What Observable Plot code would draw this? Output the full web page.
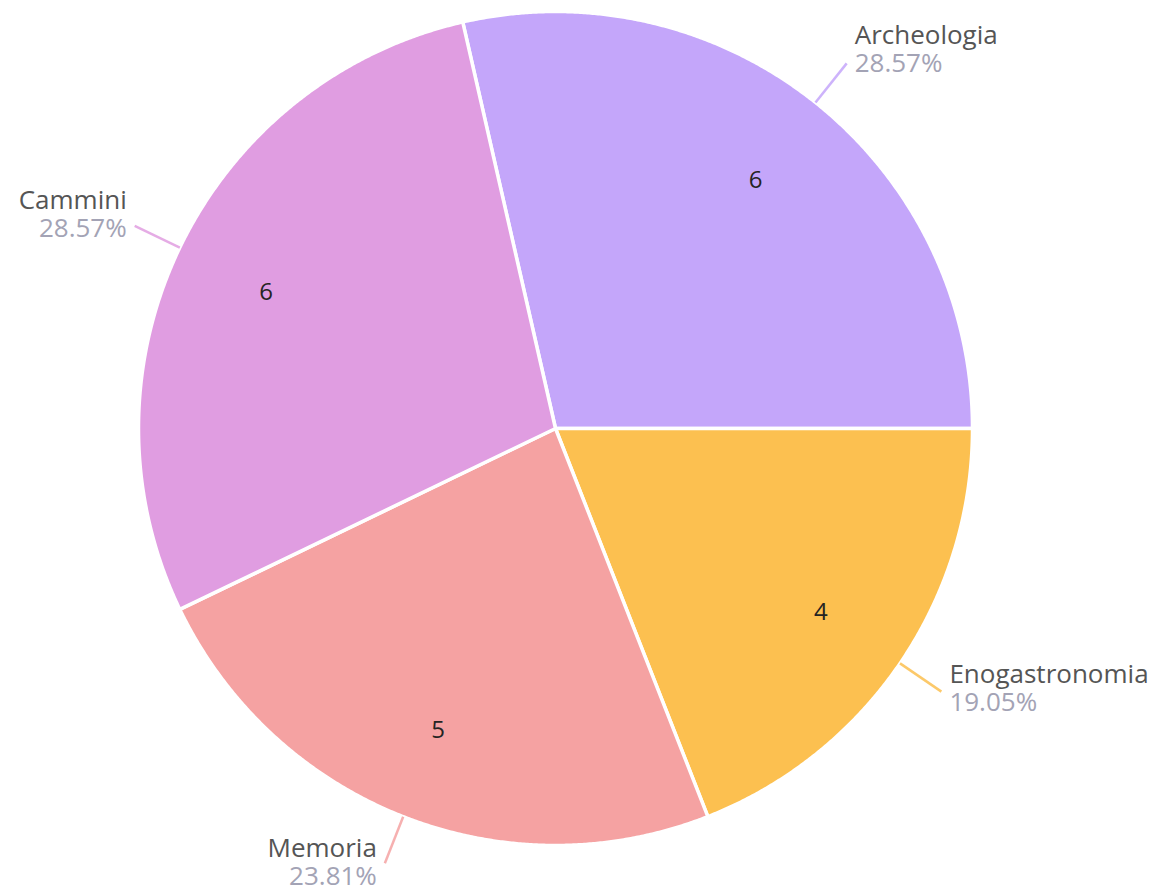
<!DOCTYPE html>
<html><head><meta charset="utf-8">
<script src="https://cdn.jsdelivr.net/npm/d3@7"></script>
<script src="https://cdn.jsdelivr.net/npm/@observablehq/plot@0.6"></script>
<style>body{margin:0;background:#fff;}</style>
</head><body><div id="chart"></div>
<script>
// ---- data ----
const categories = ["Archeologia", "Enogastronomia", "Memoria", "Cammini"];
const values = [6, 4, 5, 6];
const percentLabels = ["28.57%", "19.05%", "23.81%", "28.57%"];
const sliceColors = ["#C4A6FA", "#FCC050", "#F5A2A2", "#E09DE1"];

// ---- layout ----
const W = 1157, H = 892;
const cx = 555, cy = 428, R = 417;
const total = d3.sum(values);
const start = Math.PI / 2 - (values[0] / total) * 2 * Math.PI;
const arcs = d3.pie().sort(null).value(d => d).startAngle(start).endAngle(start + 2 * Math.PI)(values);

const pt = (a, r) => [r * Math.sin(a), r * Math.cos(a)];

// slice polygons (center -> arc -> center)
const slicePts = [];
arcs.forEach((a, i) => {
  const c = categories[i];
  slicePts.push({c, x: 0, y: 0});
  const n = Math.max(2, Math.ceil((a.endAngle - a.startAngle) / (Math.PI / 720)));
  for (let k = 0; k <= n; k++) {
    const t = a.startAngle + (a.endAngle - a.startAngle) * k / n;
    const [x, y] = pt(t, 1);
    slicePts.push({c, x, y});
  }
  slicePts.push({c, x: 0, y: 0});
});

const half = 14; // half the spacing between name and percentage baselines (px)
const rows = arcs.map((a, i) => {
  const m = (a.startAngle + a.endAngle) / 2;
  const [x1, y1] = pt(m, 1.0);
  const [x2, y2] = pt(m, 1.12);
  const [vx, vy] = pt(m, 0.77);
  const right = Math.sin(m) >= 0;
  const off = (0.5 - 8 * Math.cos(m)) / R; // vertical block shift
  return {
    c: categories[i], v: values[i], p: percentLabels[i], right,
    x1, y1, x2, y2, vx, vy: vy - 3 / R,
    tx: x2 + (right ? 8 : -8) / R,
    nameY: y2 - off + half / R,
    pctY: y2 - off - half / R
  };
});

const font = "'Segoe UI', 'Open Sans', 'Noto Sans', sans-serif";
const labelSize = 26;

const chart = Plot.plot({
  width: W, height: H,
  margin: 0,
  style: {fontFamily: font, background: "#fff"},
  x: {domain: [-1, 1], range: [cx - R, cx + R], axis: null},
  y: {domain: [-1, 1], range: [cy + R, cy - R], axis: null},
  color: {domain: categories, range: sliceColors},
  marks: [
    Plot.line(slicePts, {x: "x", y: "y", z: "c", fill: "c", stroke: "#fff", strokeWidth: 3.5, strokeLinejoin: "round"}),
    Plot.link(rows, {x1: "x1", y1: "y1", x2: "x2", y2: "y2", stroke: "c", strokeWidth: 2.5, strokeOpacity: 0.85}),
    Plot.text(rows, {x: "vx", y: "vy", text: "v", fontSize: 24, fill: "#252423", textAnchor: "middle", lineAnchor: "middle"}),
    Plot.text(rows.filter(d => d.right), {x: "tx", y: "nameY", text: "c", fontSize: labelSize, fill: "#555555", textAnchor: "start", lineAnchor: "bottom"}),
    Plot.text(rows.filter(d => d.right), {x: "tx", y: "pctY", text: "p", fontSize: labelSize, fill: "#A3A3B5", textAnchor: "start", lineAnchor: "bottom"}),
    Plot.text(rows.filter(d => !d.right), {x: "tx", y: "nameY", text: "c", fontSize: labelSize, fill: "#555555", textAnchor: "end", lineAnchor: "bottom"}),
    Plot.text(rows.filter(d => !d.right), {x: "tx", y: "pctY", text: "p", fontSize: labelSize, fill: "#A3A3B5", textAnchor: "end", lineAnchor: "bottom"})
  ]
});
document.getElementById("chart").appendChild(chart);
</script>
</body></html>
